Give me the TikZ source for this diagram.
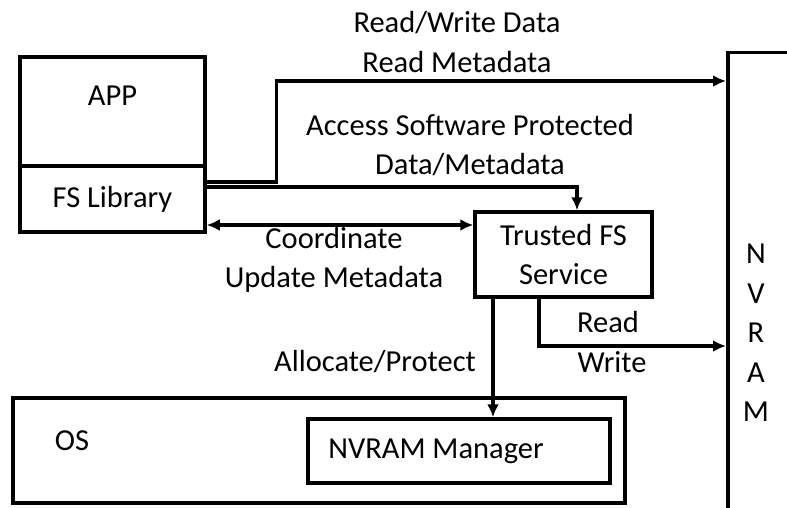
\documentclass[tikz,border=0pt]{standalone}
\usepackage{fontspec}
\setmainfont{Carlito}
\usetikzlibrary{arrows.meta,positioning}

\begin{document}
\begin{tikzpicture}[x=1pt, y=-1pt, font=\fontsize{30.5}{39.5}\selectfont, line width=3.2pt]
\tikzstyle{box}=[rectangle, draw, line width=3.5pt, inner sep=0pt, align=center]
\tikzstyle{lbl}=[align=center, inner sep=0pt]
\tikzstyle{arr}=[-{Latex[length=13pt,width=12pt]}]
\useasboundingbox (0,0) rectangle (787,508);
\node[box, minimum width=185pt, minimum height=109pt, label={[yshift=15.5pt]center:APP}] (app) at (112.5,111.5) {};
\node[box, minimum width=185pt, minimum height=66pt] (fslib) at (112.5,199) {FS Library};
\node[box, minimum width=177pt, minimum height=85pt] (trusted) at (563.5,254.5) {Trusted FS\\Service};
\node[box, minimum width=612pt, minimum height=105pt, label={[xshift=-247pt, yshift=10pt]center:OS}] (os) at (319,450.5) {};
\node[box, minimum width=302pt, minimum height=64pt, label={[xshift=-23pt]center:NVRAM Manager}] (nvmgr) at (459,451) {};
\node[box, anchor=north west, minimum width=200pt, minimum height=600pt] (nvram) at (726,51) {};
\node[lbl] (nvramtxt) at (756,333) {N\\V\\R\\A\\M};
% labels on the arrows
\node[lbl] (rwlbl) at (457,42) {Read/Write Data\\Read Metadata};
\node[lbl] (acclbl) at (470,145) {Access Software Protected\\Data/Metadata};
\node[lbl] (coordlbl) at (334,260) {Coordinate\\Update Metadata};
\node[lbl] (alloclbl) at (375,362) {Allocate/Protect};
\node[lbl] (readlbl) at (608,322) {Read};
\node[lbl] (writelbl) at (612,362) {Write};
\draw[arr] ([yshift=17pt]fslib.east) -- ++(70,0) |- ([yshift=-30pt]nvram.north west);
\draw[arr] ([yshift=12pt]fslib.east) -| ([xshift=13.5pt]trusted.north);
\draw[{Latex[length=13pt,width=12pt]}-{Latex[length=13pt,width=12pt]}] ([yshift=-26pt]fslib.east) -- ([yshift=29.5pt]trusted.west);
\draw[arr] ([xshift=-24.5pt]trusted.south) |- ([yshift=-295pt]nvram.north west);
\draw[arr] ([xshift=-70.5pt]trusted.south) -- ([xshift=34pt]nvmgr.north);
\end{tikzpicture}
\end{document}
